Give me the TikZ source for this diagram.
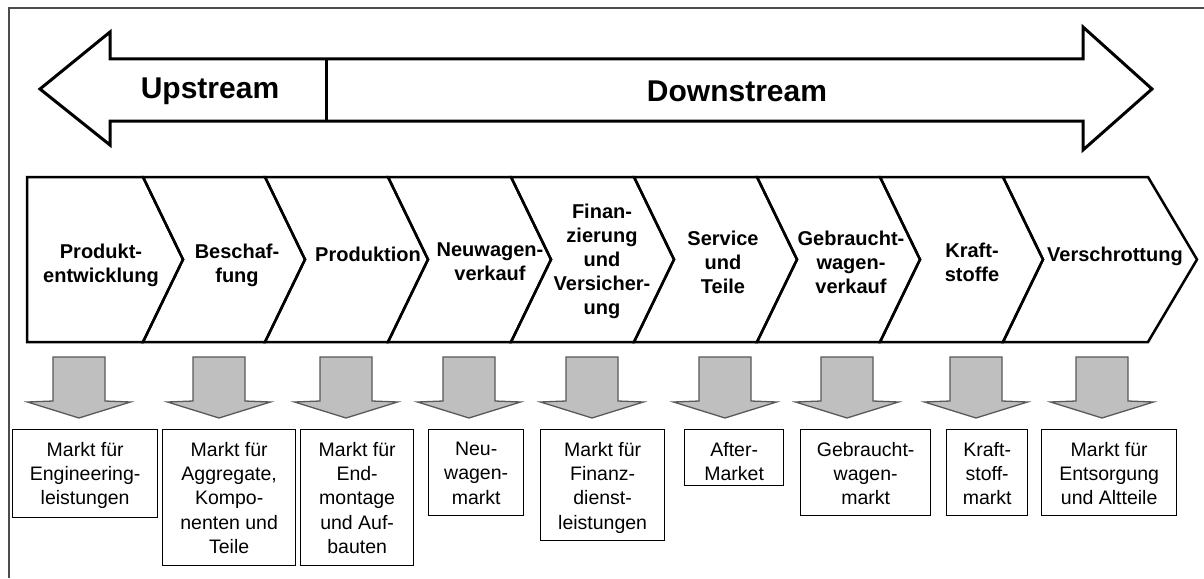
\documentclass[tikz,border=0pt]{standalone}
\usepackage{fontspec}
\setmainfont{Liberation Sans}
\begin{document}
\begin{tikzpicture}[x=1pt,y=-1pt,
  frameline/.style={draw=black!70, line width=1.5pt},
  bigarrow/.style={draw=black, line width=3pt, line join=miter, fill=white},
  chev/.style={draw=black, line width=2.5pt, line join=miter},
  flowlabel/.style={font=\bfseries\fontsize{30}{36}\selectfont, inner sep=0pt},
  stagelabel/.style={font=\bfseries\fontsize{20}{24}\selectfont, align=center, inner sep=0pt},
  downarrow/.style={draw=black!65, fill=black!25, line width=1.3pt, line join=miter},
  marketbox/.style={draw=black, line width=1.3pt},
  markettext/.style={font=\fontsize{19.5}{24.3}\selectfont, align=center, inner sep=0pt, anchor=north},
]
\useasboundingbox (0,0) rectangle (1204,578);
\fill[white] (0,0) rectangle (1204,578);

% outer frame
\draw[frameline] (9,578) -- (9,8) -- (1204,8);

% double-headed upstream / downstream arrow
\draw[bigarrow] (40,89) -- (110,32) -- (110,59) -- (1083,59) -- (1083,27)
  -- (1152,89) -- (1083,150) -- (1083,121) -- (110,121) -- (110,145) -- cycle;
\coordinate (divtop) at (326,59);
\coordinate (divbot) at (326,121);
\draw[line width=3pt] (divtop) -- (divbot);
\node[flowlabel] (up) at (210,91) {Upstream};
\node[flowlabel] (down) at (737,91) {Downstream};

% value chain chevrons
\draw[chev] (27,177) -- (143,177) -- (183,259.5) -- (143,342) -- (27,342) -- cycle;
\foreach \a/\b in {143/265, 265/388, 388/511, 511/634, 634/757, 757/880, 880/1003}
  \draw[chev] (\a,177) -- (\b,177) -- ({\b+40},259.5) -- (\b,342) -- (\a,342)
    -- ({\a+40},259.5) -- cycle;
\draw[chev] (1003,177) -- (1148,177) -- (1197,259.5) -- (1148,342) -- (1003,342)
  -- (1043,259.5) -- cycle;

\node[stagelabel] (s1) at (101,265) {Produkt-\\entwicklung};
\node[stagelabel] (s2) at (237,265) {Beschaf-\\fung};
\node[stagelabel] (s3) at (368,254) {Produktion};
\node[stagelabel] (s4) at (490,262) {Neuwagen-\\verkauf};
\node[stagelabel] (s5) at (602,261) {Finan-\\zierung\\und\\Versicher-\\ung};
\node[stagelabel] (s6) at (723,262) {Service\\und\\Teile};
\node[stagelabel] (s7) at (851,262) {Gebraucht-\\wagen-\\verkauf};
\node[stagelabel] (s8) at (972,262) {Kraft-\\stoffe};
\node[stagelabel] (s9) at (1115,256) {Verschrottung};

% grey arrows down to the markets
\foreach \c in {79,219,346,469,592,725,847,976,1102}
  \draw[downarrow] ({\c-26},357) -- ({\c+26},357) -- ({\c+26},401) -- ({\c+51.5},402)
    -- (\c,418) -- ({\c-51.5},402) -- ({\c-26},401) -- cycle;

% market boxes
\foreach \n/\l/\r/\btm in {1/12/157/517, 2/162/295/565, 3/300/413/565,
    4/428/523/515, 5/540/664/540, 6/684/783/485, 7/800/930/515,
    8/946/1027/515, 9/1041/1176/515}
  \node[marketbox, inner sep=0pt, minimum width={\r-\l}, minimum height={\btm-429}, anchor=north west]
    (m\n) at (\l,429) {};

\node[markettext] (t1) at ([yshift=-13pt]m1.north) {Markt für\\Engineering-\\leistungen};
\node[markettext] (t2) at ([yshift=-13pt]m2.north) {Markt für\\Aggregate,\\Kompo-\\nenten und\\Teile};
\node[markettext] (t3) at ([yshift=-13pt]m3.north) {Markt für\\End-\\montage\\und Auf-\\bauten};
\node[markettext] (t4) at ([yshift=-13pt]m4.north) {Neu-\\wagen-\\markt};
\node[markettext] (t5) at ([yshift=-13pt]m5.north) {Markt für\\Finanz-\\dienst-\\leistungen};
\node[markettext] (t6) at ([yshift=-13pt]m6.north) {After-\\Market};
\node[markettext] (t7) at ([yshift=-13pt]m7.north) {Gebraucht-\\wagen-\\markt};
\node[markettext] (t8) at ([yshift=-13pt]m8.north) {Kraft-\\stoff-\\markt};
\node[markettext] (t9) at ([yshift=-13pt]m9.north) {Markt für\\Entsorgung\\und Altteile};
\end{tikzpicture}
\end{document}
